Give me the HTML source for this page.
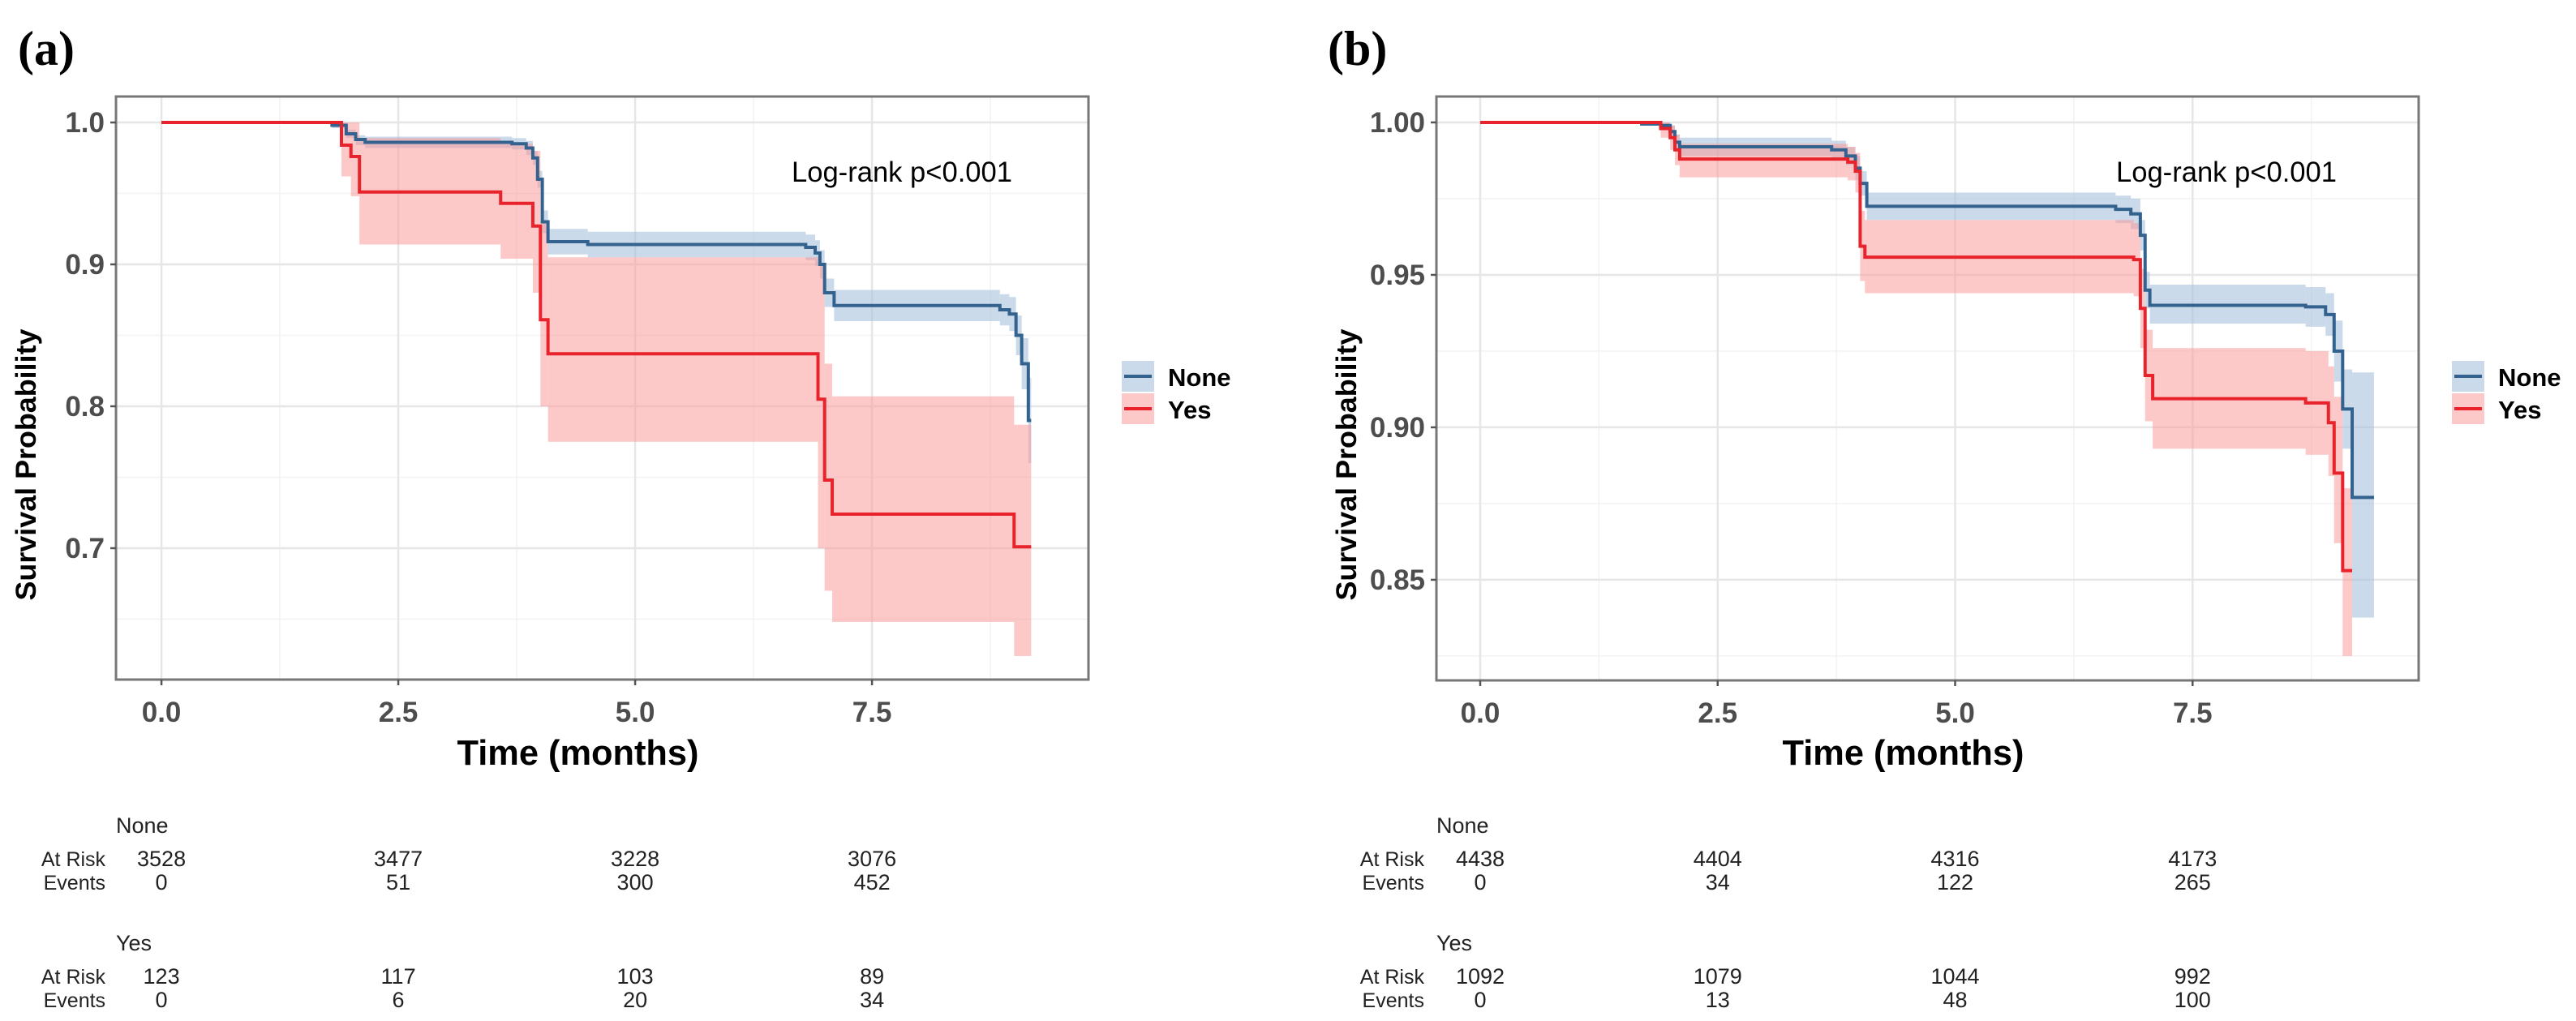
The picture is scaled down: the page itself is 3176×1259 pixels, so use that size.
<!DOCTYPE html>
<html><head><meta charset="utf-8"><style>
html,body{margin:0;padding:0;background:#fff}
svg{display:block}
text{font-family:"Liberation Sans",Arial,sans-serif}
text.serif{font-family:"Liberation Serif","Times New Roman",serif}
</style></head><body>
<svg id="fig" width="3176" height="1259" viewBox="0 0 3176 1259" xmlns="http://www.w3.org/2000/svg"></svg>
<script>
// ---- Panel (a) data ----
const aNoneTimes=[0,1.8,1.95,2.05,2.15,3.7,3.85,3.92,3.97,4.02,4.08,4.5,6.8,6.9,6.95,7.0,7.1,8.85,8.95,9.02,9.08,9.15];
const aNoneSurv=[1.0,0.998,0.992,0.988,0.986,0.985,0.982,0.975,0.96,0.93,0.916,0.914,0.912,0.908,0.90,0.88,0.871,0.868,0.865,0.85,0.83,0.79];
const aNoneLower=[1.0,0.996,0.989,0.984,0.982,0.981,0.977,0.970,0.954,0.922,0.907,0.905,0.903,0.899,0.890,0.870,0.860,0.857,0.853,0.836,0.812,0.76];
const aNoneUpper=[1.0,1.0,0.995,0.991,0.990,0.989,0.987,0.980,0.966,0.938,0.925,0.923,0.921,0.917,0.910,0.890,0.882,0.879,0.877,0.864,0.848,0.82];
const aNoneEnd=9.18;
const aYesTimes=[0,1.9,2.0,2.09,3.58,3.92,4.0,4.08,6.93,7.0,7.08,9.0];
const aYesSurv=[1.0,0.984,0.976,0.951,0.943,0.927,0.861,0.837,0.805,0.748,0.724,0.701];
const aYesLower=[1.0,0.962,0.948,0.914,0.904,0.88,0.80,0.775,0.70,0.67,0.648,0.624];
const aYesUpper=[1.0,1.0,1.0,0.989,0.985,0.98,0.93,0.905,0.90,0.83,0.807,0.787];
const aYesEnd=9.18;
const aYTicks=[0.7,0.8,0.9,1.0];
const aYTickLabels=["0.7","0.8","0.9","1.0"];
const aYMinor=[0.65,0.75,0.85,0.95];
const aRiskNone=[3528,3477,3228,3076];
const aEventsNone=[0,51,300,452];
const aRiskYes=[123,117,103,89];
const aEventsYes=[0,6,20,34];
// ---- Panel (b) data ----
const bNoneTimes=[0,1.7,1.9,2.0,2.05,2.1,3.7,3.85,3.95,4.0,4.07,6.69,6.85,6.95,7.0,7.05,8.69,8.9,8.99,9.08,9.18];
const bNoneSurv=[1.0,0.9995,0.999,0.997,0.9935,0.992,0.991,0.989,0.985,0.98,0.9725,0.9715,0.970,0.963,0.945,0.940,0.9395,0.937,0.925,0.906,0.877];
const bNoneLower=[1.0,0.999,0.998,0.995,0.991,0.989,0.988,0.986,0.981,0.976,0.968,0.967,0.965,0.958,0.939,0.934,0.933,0.930,0.915,0.893,0.8376];
const bNoneUpper=[1.0,1.0,1.0,0.999,0.996,0.995,0.994,0.992,0.989,0.984,0.977,0.976,0.975,0.968,0.951,0.9468,0.946,0.944,0.935,0.919,0.918];
const bNoneEnd=9.41;
const bYesTimes=[0,1.9,2.0,2.05,2.1,3.87,3.95,4.0,4.05,6.88,6.95,7.0,7.08,8.69,8.93,8.99,9.08];
const bYesSurv=[1.0,0.998,0.995,0.991,0.988,0.987,0.984,0.9594,0.9558,0.955,0.939,0.917,0.9094,0.908,0.9015,0.885,0.853];
const bYesLower=[1.0,0.995,0.991,0.986,0.982,0.981,0.977,0.948,0.944,0.943,0.926,0.902,0.893,0.891,0.884,0.862,0.825];
const bYesUpper=[1.0,1.0,0.999,0.996,0.993,0.992,0.99,0.971,0.968,0.967,0.952,0.932,0.926,0.925,0.92,0.91,0.88];
const bYesEnd=9.18;
const bYTicks=[0.85,0.90,0.95,1.00];
const bYTickLabels=["0.85","0.90","0.95","1.00"];
const bYMinor=[0.825,0.875,0.925,0.975];
const bRiskNone=[4438,4404,4316,4173];
const bEventsNone=[0,34,122,265];
const bRiskYes=[1092,1079,1044,992];
const bEventsYes=[0,13,48,100];
// shared
const xTicks=[0,2.5,5,7.5];
const xTickLabels=["0.0","2.5","5.0","7.5"];
const xMinor=[1.25,3.75,6.25,8.75];

const NS="http://www.w3.org/2000/svg";
const svg=document.getElementById('fig');
function mk(tag,attrs,parent,txt){const e=document.createElementNS(NS,tag);for(const k in attrs)e.setAttribute(k,attrs[k]);if(txt!==undefined)e.textContent=txt;(parent||svg).appendChild(e);return e;}

function panel(P){
  const g=mk('g',{});
  
  
  const X=v=>P.x0+(v-P.xmin)/(P.xmax-P.xmin)*(P.x1-P.x0);
  const Y=v=>P.y1-(v-P.ymin)/(P.ymax-P.ymin)*(P.y1-P.y0);
  const grid=mk('g',{},g);
  
  
  P.yMinor.forEach(v=>mk('line',{x1:P.x0,x2:P.x1,y1:Y(v),y2:Y(v),stroke:'#f2f2f2','stroke-width':1.5},grid));
  xMinor.forEach(v=>mk('line',{x1:X(v),x2:X(v),y1:P.y0,y2:P.y1,stroke:'#f2f2f2','stroke-width':1.5},grid));
  P.yTicks.forEach(v=>mk('line',{x1:P.x0,x2:P.x1,y1:Y(v),y2:Y(v),stroke:'#e6e6e6','stroke-width':2.5},grid));
  xTicks.forEach(v=>mk('line',{x1:X(v),x2:X(v),y1:P.y0,y2:P.y1,stroke:'#e6e6e6','stroke-width':2.5},grid));
  P.series.forEach(s=>{
    const sg=mk('g',{},g);
    
    
    for(let i=0;i<s.t.length;i++){
      const t0=s.t[i],t1=(i+1<s.t.length)?s.t[i+1]:s.end;
      const r=mk('rect',{x:X(t0),y:Y(s.hi[i]),width:Math.max(0,X(t1)-X(t0)),height:Math.max(0,Y(s.lo[i])-Y(s.hi[i])),fill:s.fill,'fill-opacity':s.op},sg);
      
      
    }
  });
  P.series.forEach(s=>{
    let d='';
    for(let i=0;i<s.t.length;i++){
      const t0=s.t[i],t1=(i+1<s.t.length)?s.t[i+1]:s.end;
      d+=(i===0?'M':'L')+X(t0)+','+Y(s.v[i])+'L'+X(t1)+','+Y(s.v[i]);
    }
    const p=mk('path',{d:d,fill:'none',stroke:s.color,'stroke-width':4},g);
    
    
  });
  const b=mk('rect',{x:P.x0,y:P.y0,width:P.x1-P.x0,height:P.y1-P.y0,fill:'none',stroke:'#777','stroke-width':3},g);
  
  
  P.yTicks.forEach((v,i)=>{
    mk('line',{x1:P.x0-7,x2:P.x0,y1:Y(v),y2:Y(v),stroke:'#555','stroke-width':2.5},g);
    const t=mk('text',{x:P.x0-14,y:Y(v)+12,'text-anchor':'end','font-size':35,'font-weight':'bold',fill:'#4d4d4d'},g,P.yLabels[i]);
    
    
  });
  xTicks.forEach((v,i)=>{
    mk('line',{x1:X(v),x2:X(v),y1:P.y1,y2:P.y1+7,stroke:'#555','stroke-width':2.5},g);
    const t=mk('text',{x:X(v),y:P.y1+52,'text-anchor':'middle','font-size':35,'font-weight':'bold',fill:'#4d4d4d'},g,xTickLabels[i]);
    
    
  });
  const xt=mk('text',{x:(P.x0+P.x1)/2-30,y:943,'text-anchor':'middle','font-size':44,'font-weight':'bold',fill:'#000',textLength:298,lengthAdjust:'spacingAndGlyphs'},g,'Time (months)');
  
  
  const yt=mk('text',{x:0,y:0,'text-anchor':'middle','font-size':35,'font-weight':'bold',fill:'#000',transform:`translate(${P.ytx},573) rotate(-90)`,textLength:335,lengthAdjust:'spacingAndGlyphs'},g,'Survival Probability');
  
  
  const lr=mk('text',{x:P.lrx,y:224,'font-size':35,fill:'#000',textLength:272,lengthAdjust:'spacingAndGlyphs'},g,'Log-rank p<0.001');
  
  
  const pl=mk('text',{x:P.plx,y:80,'font-size':60,'font-weight':'bold',fill:'#000','class':'serif'},g,'('+P.id+')');
  
  
  const lg=mk('g',{},g);
  
  
  P.series.forEach((s,i)=>{
    const ky=445+i*40;
    const e=mk('g',{},lg);
    
    
    mk('rect',{x:P.lgx,y:ky,width:40,height:38,fill:s.fill,'fill-opacity':s.op},e);
    mk('line',{x1:P.lgx+3,x2:P.lgx+37,y1:ky+19,y2:ky+19,stroke:s.color,'stroke-width':4},e);
    mk('text',{x:P.lgx+57,y:ky+31,'font-size':31,'font-weight':'bold',fill:'#000'},e,s.name);
  });
  const rt=mk('g',{},g);
  
  
  const groups=[{name:'None',risk:P.riskNone,ev:P.evNone,y:1027},{name:'Yes',risk:P.riskYes,ev:P.evYes,y:1172}];
  groups.forEach(G=>{
    mk('text',{x:P.x0,y:G.y,'font-size':27,fill:'#222'},rt,G.name);
    mk('text',{x:X(0)-69,y:G.y+41,'font-size':25,fill:'#222','text-anchor':'end'},rt,'At Risk');
    mk('text',{x:X(0)-69,y:G.y+70,'font-size':25,fill:'#222','text-anchor':'end'},rt,'Events');
    xTicks.forEach((v,i)=>{
      mk('text',{x:X(v),y:G.y+41,'font-size':27,fill:'#222','text-anchor':'middle'},rt,String(G.risk[i]));
      mk('text',{x:X(v),y:G.y+70,'font-size':27,fill:'#222','text-anchor':'middle'},rt,String(G.ev[i]));
    });
  });
}
const BLUE='#34628f',RED='#e8232b',BFILL='#a9c1dc',RFILL='#f99a9a';
panel({id:'a',x0:143,x1:1342,y0:119,y1:838,xmin:-0.48,xmax:9.785,ymin:0.6074,ymax:1.0183,
  yTicks:aYTicks,yLabels:aYTickLabels,yMinor:aYMinor,ytx:44,lrx:976,plx:22,lgx:1383,
  riskNone:aRiskNone,evNone:aEventsNone,riskYes:aRiskYes,evYes:aEventsYes,
  series:[{name:'None',t:aNoneTimes,v:aNoneSurv,lo:aNoneLower,hi:aNoneUpper,end:aNoneEnd,color:BLUE,fill:BFILL,op:0.6},
          {name:'Yes',t:aYesTimes,v:aYesSurv,lo:aYesLower,hi:aYesUpper,end:aYesEnd,color:RED,fill:RFILL,op:0.55}]});
panel({id:'b',x0:1771,x1:2982,y0:119,y1:839,xmin:-0.461,xmax:9.88,ymin:0.817,ymax:1.0085,
  yTicks:bYTicks,yLabels:bYTickLabels,yMinor:bYMinor,ytx:1672,lrx:2609,plx:1637,lgx:3023,
  riskNone:bRiskNone,evNone:bEventsNone,riskYes:bRiskYes,evYes:bEventsYes,
  series:[{name:'None',t:bNoneTimes,v:bNoneSurv,lo:bNoneLower,hi:bNoneUpper,end:bNoneEnd,color:BLUE,fill:BFILL,op:0.6},
          {name:'Yes',t:bYesTimes,v:bYesSurv,lo:bYesLower,hi:bYesUpper,end:bYesEnd,color:RED,fill:RFILL,op:0.55}]});
</script>
</body></html>
